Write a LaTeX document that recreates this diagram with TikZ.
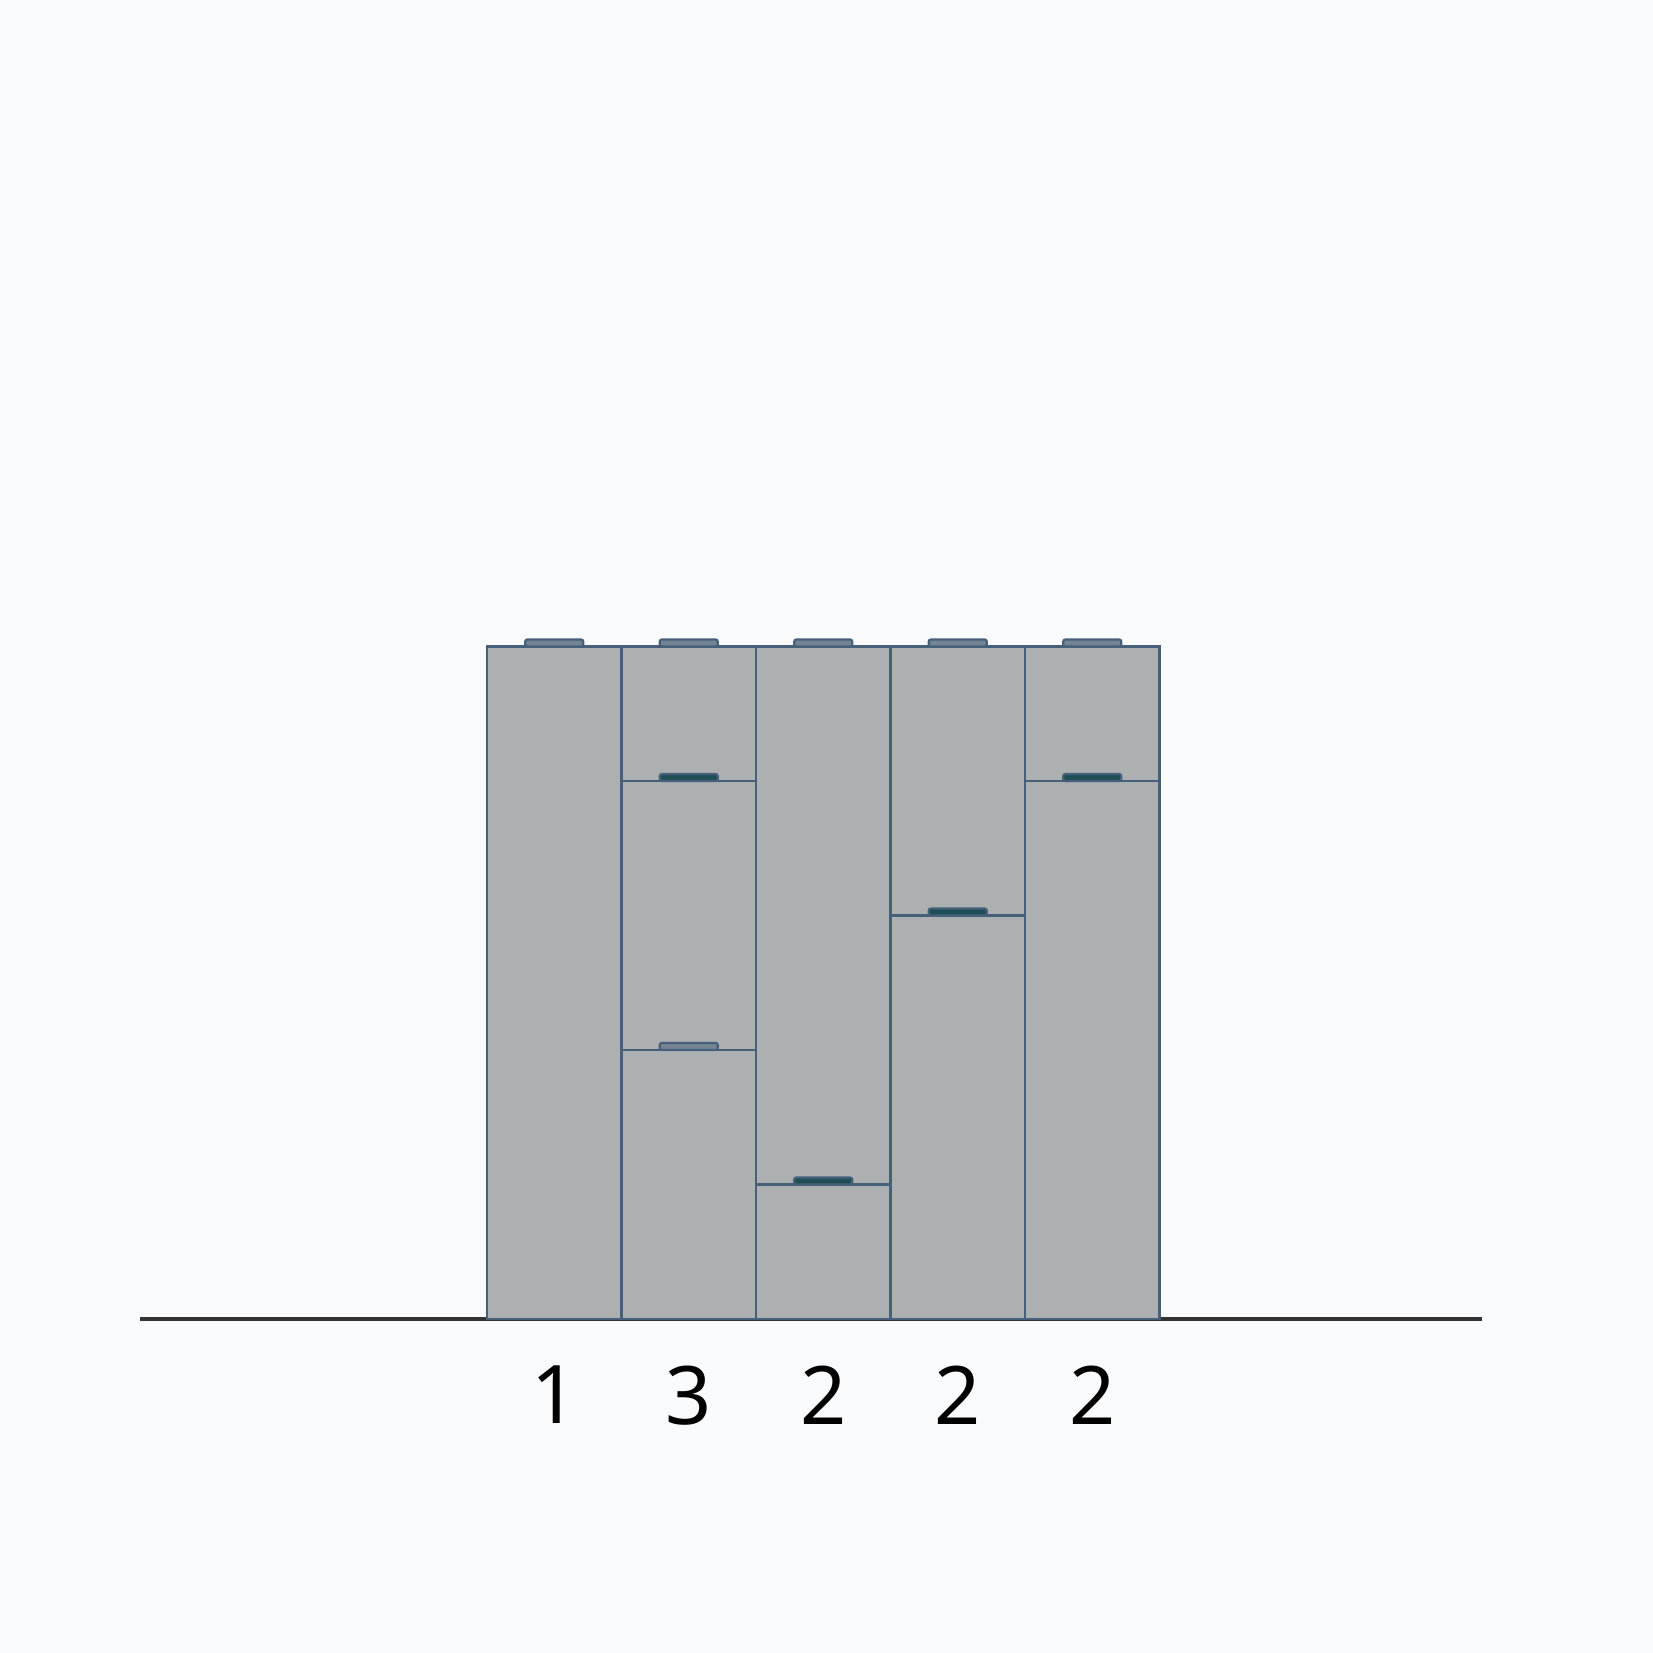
\documentclass[tikz,border=0pt]{standalone}
\usepackage{fontspec}
\setmainfont{Noto Sans}
\usetikzlibrary{positioning}
\definecolor{cellfill}{HTML}{ACB0B1}
\definecolor{cellline}{HTML}{46607A}
\definecolor{nubgreen}{HTML}{1F4F55}
\definecolor{pagebg}{HTML}{F9FAFB}
\tikzset{
    cell/.style={draw=cellline, fill=cellfill, line width=0.8pt, inner sep=0pt, outer sep=0pt, minimum width=1.345cm, anchor=south west},
    nub/.style={draw=cellline, fill=cellline!55!cellfill, line width=0.6pt, inner sep=0pt, outer sep=0pt, minimum width=0.58cm, minimum height=0.07cm, rounded corners=0.2mm, anchor=south},
    nubdark/.style={nub, fill=nubgreen},
    count/.style={font=\fontsize{23}{23}\selectfont, text=black, inner sep=0pt},
    axis/.style={line width=1pt, black!80}
}

\begin{document}
\begin{tikzpicture}
\fill[pagebg] (0,0) rectangle (16.53,16.53);
\useasboundingbox (0,0) rectangle (16.53,16.53);

\coordinate (axisL) at (1.40,3.34);
\coordinate (axisR) at (14.82,3.34);
\draw[axis] (axisL) -- (axisR);

% column 1
\node[cell, minimum height=6.725cm] (c1a) at (4.87,3.34) {};
% column 2
\node[cell, minimum height=2.69cm] (c2a) at (c1a.south east) {};
\node[cell, minimum height=2.69cm] (c2b) at (c2a.north west) {};
\node[cell, minimum height=1.345cm] (c2c) at (c2b.north west) {};
% column 3
\node[cell, minimum height=1.345cm] (c3a) at (c2a.south east) {};
\node[cell, minimum height=5.38cm] (c3b) at (c3a.north west) {};
% column 4
\node[cell, minimum height=4.035cm] (c4a) at (c3a.south east) {};
\node[cell, minimum height=2.69cm] (c4b) at (c4a.north west) {};
% column 5
\node[cell, minimum height=5.38cm] (c5a) at (c4a.south east) {};
\node[cell, minimum height=1.345cm] (c5b) at (c5a.north west) {};

% caps
\node[nub] (n1a) at (c1a.north) {};
\node[nub] (n2a) at (c2a.north) {};
\node[nubdark] (n2b) at (c2b.north) {};
\node[nub] (n2c) at (c2c.north) {};
\node[nubdark] (n3a) at (c3a.north) {};
\node[nub] (n3b) at (c3b.north) {};
\node[nubdark] (n4a) at (c4a.north) {};
\node[nub] (n4b) at (c4b.north) {};
\node[nubdark] (n5a) at (c5a.north) {};
\node[nub] (n5b) at (c5b.north) {};

% counts
\node[count, below=0.46cm of c1a] (k1) {1};
\node[count, below=0.46cm of c2a] (k2) {3};
\node[count, below=0.46cm of c3a] (k3) {2};
\node[count, below=0.46cm of c4a] (k4) {2};
\node[count, below=0.46cm of c5a] (k5) {2};
\end{tikzpicture}
\end{document}
